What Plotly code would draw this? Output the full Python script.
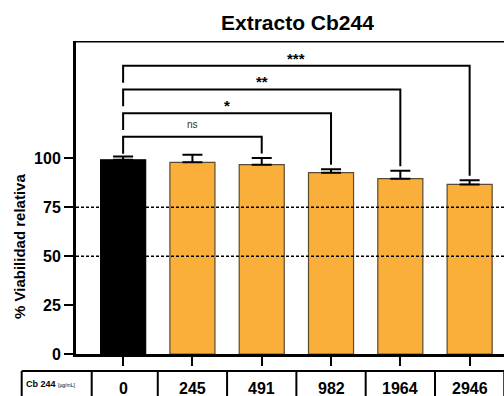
import plotly.graph_objects as go

categories = ["0", "245", "491", "982", "1964", "2946"]
viability = [99.3, 98.0, 96.8, 92.7, 89.6, 86.7]
sem = [1.6, 3.9, 3.4, 1.7, 4.1, 2.1]
comparisons = [(0, 2, "ns"), (0, 3, "*"), (0, 4, "**"), (0, 5, "***")]
ref_lines = [75, 50]
table_header = "Cb 244"
table_unit = "[µg/mL]"

W, H = 504, 396
ml, mr, mt, mb = 76, 0, 41, 42
PH = H - mt - mb
x_rng = [-0.68, 5.496]
y_rng = [0, 160]

orange = "rgb(251,175,59)"
xs = list(range(len(categories)))
colors = ["black"] + [orange] * (len(categories) - 1)
lines = ["black"] + ["#5a4a30"] * (len(categories) - 1)


def px_x(px):
    return (px - ml) / (W - ml - mr)


def px_y(py):
    return (H - mb - py) / PH


fig = go.Figure()
fig.add_trace(go.Bar(
    x=xs, y=viability, width=0.65,
    marker=dict(color=colors, line=dict(color=lines, width=1.2)),
    error_y=dict(type="data", array=sem, arrayminus=[0] * len(sem),
                 symmetric=False, color="black", thickness=2, width=10),
    showlegend=False,
))

shapes = []
annotations = []
for v in ref_lines:
    shapes.append(dict(type="line", xref="paper", yref="y", x0=0, x1=1, y0=v, y1=v,
                       line=dict(color="black", width=1.6, dash="3px,2px"), layer="above"))

shapes.append(dict(type="line", xref="paper", yref="y", x0=0, x1=1, y0=y_rng[1], y1=y_rng[1],
                   line=dict(color="black", width=3)))

base_h, step = 111, 12.1
for i, (a, b, lab) in enumerate(comparisons):
    h = base_h + step * i
    left_bottom = h - 8.6
    right_bottom = viability[b] + sem[b] + 2.3
    shapes.append(dict(type="path", xref="x", yref="y",
                       path=f"M {a},{left_bottom} L {a},{h} L {b},{h} L {b},{right_bottom}",
                       line=dict(color="black", width=2)))
    if lab == "ns":
        annotations.append(dict(x=(a + b) / 2, y=h + 6.4, xref="x", yref="y", text=lab,
                                showarrow=False, yanchor="middle",
                                font=dict(family="Liberation Sans, Arial", size=10, color="#333")))
    else:
        annotations.append(dict(x=(a + b) / 2, y=h + 6.0, xref="x", yref="y", text=f"<b>{lab}</b>",
                                showarrow=False, yanchor="middle", yshift=-4,
                                font=dict(family="Liberation Sans, Arial", size=15, color="black")))

# table under the axis
tbl_top = px_y(371)
shapes.append(dict(type="line", xref="paper", yref="paper", x0=px_x(21.7), x1=1,
                   y0=tbl_top, y1=tbl_top, line=dict(color="black", width=2)))
for xp in [px_x(21.7), px_x(91.7)]:
    shapes.append(dict(type="line", xref="paper", yref="paper", x0=xp, x1=xp,
                       y0=tbl_top, y1=px_y(400), line=dict(color="black", width=2)))
for k in range(len(categories)):
    xb = k + 0.5
    shapes.append(dict(type="line", xref="x", yref="paper", x0=xb, x1=xb,
                       y0=tbl_top, y1=px_y(400), line=dict(color="black", width=2)))
for k, c in enumerate(categories):
    annotations.append(dict(x=k, y=px_y(388), xref="x", yref="paper", text=f"<b>{c}</b>",
                            showarrow=False, yanchor="middle",
                            font=dict(family="Liberation Sans, Arial", size=16, color="black")))
annotations.append(dict(x=px_x(24), y=px_y(384), xref="paper", yref="paper", xanchor="left", yanchor="middle",
                        text=f"<b>{table_header}</b> <span style='font-size:5px'>{table_unit}</span>",
                        showarrow=False, font=dict(family="Liberation Sans, Arial", size=9, color="black")))

# y-axis title
annotations.append(dict(x=px_x(19), y=px_y(247), xref="paper", yref="paper",
                        text="<b>% Viabilidad relativa</b>", textangle=-90, showarrow=False,
                        xanchor="center", yanchor="middle",
                        font=dict(family="Liberation Sans, Arial", size=15, color="black")))
# title
annotations.append(dict(x=px_x(297), y=px_y(23), xref="paper", yref="paper",
                        text="<b>Extracto Cb244</b>", showarrow=False, xanchor="center", yanchor="middle",
                        font=dict(family="Liberation Sans, Arial", size=21, color="black")))

fig.update_layout(
    width=W, height=H, margin=dict(l=ml, r=mr, t=mt, b=mb, pad=0),
    paper_bgcolor="white", plot_bgcolor="white",
    shapes=shapes, annotations=annotations, bargap=0.35,
    xaxis=dict(range=x_rng, tickvals=xs, ticktext=[""] * len(xs), ticks="outside", ticklen=9,
               tickwidth=2, tickcolor="black", showline=True, linecolor="black", linewidth=3,
               showgrid=False, zeroline=False, fixedrange=True),
    yaxis=dict(range=y_rng, tickvals=[0, 25, 50, 75, 100],
               ticktext=["<b>0</b>", "<b>25</b>", "<b>50</b>", "<b>75</b>", "<b>100</b>"],
               ticks="outside", ticklen=9, tickwidth=2, tickcolor="black", showline=True,
               linecolor="black", linewidth=3, showgrid=False, zeroline=False,
               tickfont=dict(family="Liberation Sans, Arial", size=16, color="black"), fixedrange=True),
)

fig.write_html("out.html")
